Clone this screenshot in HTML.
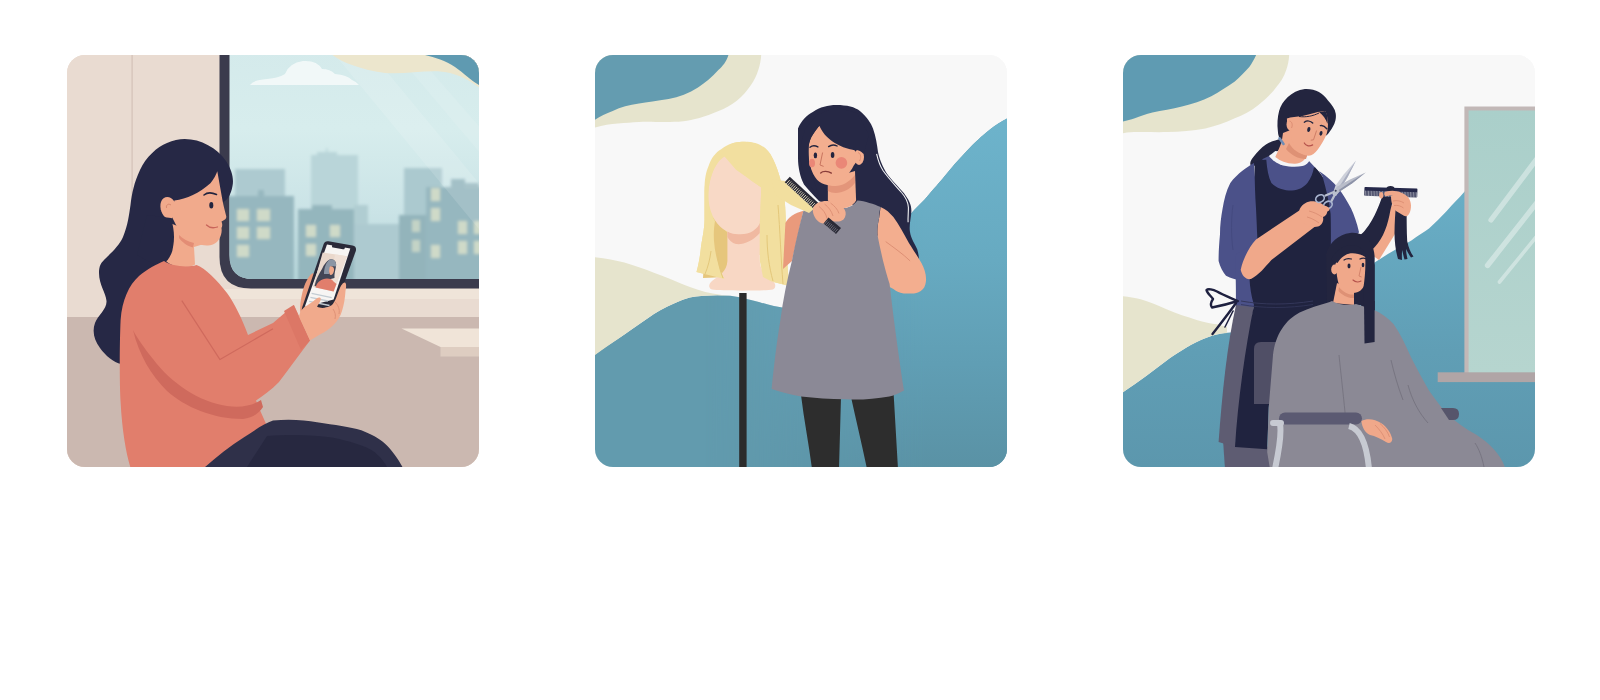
<!DOCTYPE html>
<html lang="en">
<head>
<meta charset="utf-8">
<title>Hair styling illustrations</title>
<style>
html,body{margin:0;padding:0;background:#fff;}
body{width:1600px;height:700px;position:relative;overflow:hidden;font-family:"Liberation Sans",sans-serif;}
.card{position:absolute;top:55px;width:412px;height:412px;border-radius:18px;overflow:hidden;}
.card svg{display:block;width:412px;height:412px;}
#c1{left:67px;background:#e9dbd1;}
#c2{left:595px;background:#f8f8f8;}
#c3{left:1123px;background:#f8f8f8;}
</style>
</head>
<body>
<div class="card" id="c1">
<svg viewBox="0 0 412 412">
<defs>
<linearGradient id="sky" x1="0" y1="0" x2="0" y2="1">
<stop offset="0" stop-color="#d4eaeb"/><stop offset=".35" stop-color="#d7eded"/><stop offset=".7" stop-color="#cae3e6"/><stop offset="1" stop-color="#b6d6da"/>
</linearGradient>
<filter id="blur1" x="-5%" y="-5%" width="110%" height="110%"><feGaussianBlur stdDeviation="1.5"/></filter>
<clipPath id="glass"><path d="M162.500 -10H430V224H186Q162.500 224 162.500 200Z"/></clipPath>
</defs>
<!-- CARD1-BG -->
<rect width="412" height="412" fill="#e9dbd1"/>
<rect y="262" width="412" height="150" fill="#cbb8b0"/>
<rect x="150" y="234" width="262" height="10" fill="#efe4d9"/>
<rect x="64.5" y="0" width="1.2" height="262" fill="#d3c2b8"/>
<!-- window -->
<path d="M152.500 -10H430V233.500H184Q152.500 233.500 152.500 202Z" fill="#3b3b4d"/>
<g clip-path="url(#glass)">
<rect x="160" y="-10" width="260" height="240" fill="url(#sky)"/>
<g filter="url(#blur1)">
<!-- far buildings -->
<rect x="244" y="100" width="47" height="130" fill="#b9d5d9"/>
<rect x="250" y="97" width="20" height="4" fill="#b9d5d9"/>
<rect x="259" y="93" width="1.5" height="6" fill="#b9d5d9"/>
<rect x="337" y="113" width="38" height="120" fill="#abc9cf"/>
<rect x="168" y="114" width="50" height="115" fill="#adcad0"/>
<rect x="287" y="150" width="14" height="80" fill="#b0cdd2"/>
<rect x="287" y="169" width="48" height="60" fill="#adcad0"/>
<!-- near buildings -->
<rect x="160" y="141" width="67" height="90" fill="#96b7bf"/>
<rect x="191" y="135" width="6" height="7" fill="#96b7bf"/>
<rect x="231" y="154" width="56" height="75" fill="#94b6bd"/>
<rect x="245" y="150" width="20" height="5" fill="#94b6bd"/>
<rect x="332" y="160" width="28" height="70" fill="#93b4bb"/>
<rect x="359" y="132" width="60" height="100" fill="#96b7bf"/>
<rect x="384" y="124" width="14" height="9" fill="#96b7bf"/>
<rect x="398" y="128" width="14" height="5" fill="#9cbcc3"/>
<!-- windows -->
<g fill="#cfdac8">
<rect x="170" y="154" width="12" height="12"/><rect x="190" y="154" width="13" height="12"/>
<rect x="170" y="172" width="12" height="12"/><rect x="190" y="172" width="13" height="12"/>
<rect x="170" y="190" width="12" height="12"/>
<rect x="239" y="170" width="10" height="12"/><rect x="263" y="170" width="10" height="12"/>
<rect x="239" y="189" width="10" height="12"/>
<rect x="364" y="133" width="9" height="13"/><rect x="364" y="153" width="9" height="13"/>
<rect x="364" y="190" width="9" height="13"/>
<rect x="391" y="166" width="9" height="13"/><rect x="407" y="166" width="9" height="13"/>
<rect x="391" y="186" width="9" height="13"/><rect x="407" y="186" width="9" height="13"/>
</g>
<g fill="#c3d3c6">
<rect x="345" y="165" width="8" height="12"/><rect x="345" y="185" width="8" height="12"/>

</g>
</g>
<!-- cloud -->
<path d="M183 30Q186 25 200 24Q212 23 218 19Q222 8 236 6Q250 5 255 14Q263 14 268 19Q280 20 285 25Q290 27 292 30Z" fill="#f4fafa" opacity=".9"/>
<!-- glare -->
<path d="M268 0H306L430 150V196Z" fill="#fff" opacity=".13"/>
<path d="M330 0H350L430 92V118Z" fill="#fff" opacity=".1"/>
<!-- top waves -->
<path d="M263 -2C272 6 290 14 318 18C340 20 365 13 383 18C398 22 406 28 414 34V-2Z" fill="#ece6cd"/>
<path d="M350 -2C362 1 376 4 388 12C398 19 404 26 414 31V-2Z" fill="#5f9ab1"/>
</g>
<path d="M334.5 273.5H414V292H373.5Z" fill="#f0e4d8"/>
<path d="M373.5 292H414V301.5H373.5Z" fill="#decdc1"/>
<!-- hair back -->
<path d="M117.7 84C134 84 150 93 159 106C165 115 167 124 165.5 131C164 140 160 145 156.5 147L140 178L120 195L112 212L70 240L54 309C47 308 38 300 33 293C27 285 25 276 28 268C31 260 40 254 39.5 246C39 238 32 230 32 218C32 211 34 208 37 205C44 198 52 191 56 182C61 170 62 160 63.5 150C65 138 67 128 73 115C79 102 90 92 100 88C106 85.5 112 84 117.700 84Z" fill="#262845"/>
<!-- neck -->
<path d="M103 168L99 206C106 213 120 214 128 209.500L127 192L140 188L128 178Z" fill="#f1aa8c"/>
<!-- face -->
<path d="M150.300 116.300L155.500 145.500C156.500 151 158 156 159.300 161.500C159.500 163.500 158 165 154.500 166.500C155.500 169 155.500 171 154.500 173C155 176 154.500 179 153 182.500C151 187 147 190 141 190.500C134 191 122 187 114 180L104 160L107.400 145.400C120 144 132 138.500 143.400 128.300C147 124 149 120 150.300 116.300Z" fill="#f1aa8c"/>
<!-- ear -->
<path d="M107 146C103 140 96 141 94 147C92 153 95 161 100 163.500C103 165 106 163 107 160Z" fill="#f1aa8c"/>
<path d="M104 150C101 148 99 150 99.500 153" fill="none" stroke="#d98a70" stroke-width="1"/>
<!-- hair lower behind ear over neck -->
<path d="M104 163C106 170 107 176 107 182C107 188 106 192 105.300 196C104 200 102 203 100.700 205L92 212L70 200L80 160Z" fill="#262845"/>
<path d="M112 180C116 184 121 186.500 127 188L126 192.500C120 191 115 187 112 183Z" fill="#e38d75"/>
<!-- eye brow mouth -->
<ellipse cx="144.300" cy="150.300" rx="2" ry="3.300" fill="#23253f"/>
<path d="M137 140C140 137.500 145 137.500 149.500 139.500" fill="none" stroke="#23253f" stroke-width="1.600" stroke-linecap="round"/>
<path d="M139.500 170C142 172.500 146 173.500 150.500 172" fill="none" stroke="#c9655a" stroke-width="1.300" stroke-linecap="round"/>
<!-- sweater body -->
<path d="M97 206C104 211 120 213 129.500 210C138 213 150 225 160 238C168 249 175 264 181 280L206 268L227 250L243 285.500C232 300 222 314 212 327C204 335 196 341 189 345.500L192 353L200 371L176 383L138 412H63.300C59 398 55 375 53.600 347C52.500 330 52.500 290 53.600 265C55 245 62 230 72 221C80 214 90 209 97 206Z" fill="#e17e6c"/>
<!-- under-arm shade -->
<path d="M66 275C72 300 84 320 100 336C118 352 146 364 176 364C186 363 192 358 196 352L194 345C186 350 176 353 160 351C132 347 104 328 86 304C78 294 70 283 66 275Z" fill="#cf6a5d"/>
<!-- crease -->
<path d="M114.800 245.700L153 304.600L206 273.700" fill="none" stroke="#cf6a5d" stroke-width="1.200" stroke-linejoin="round"/>
<!-- cuff -->
<path d="M226.600 250L243 285.500L234 295L217 256Z" fill="#dc7766"/>
<!-- pants -->
<path d="M138 412C150 402 163 391 176.600 382.600C188 375 198 368 206 365.500C222 364 238 365 250 367.300C268 370 283 372 294.300 375.200C304 379 312 383 317.800 388.500C325 395 331 404 335.500 412Z" fill="#2f3049"/>
<path d="M200 381C225 379 248 380 265 382.600C282 386 294 390 303 394.300C310 398 316 405 320 412H180Z" fill="#272840"/>
<!-- rear hand fingers (left of phone) -->
<path d="M246 218C241 221 237.500 229 235.500 237C233.500 245 232.500 252 233.500 259L244 256L252 226Z" fill="#e99a7c"/>
<!-- phone -->
<path d="M261.500 186.300L285.500 190.500Q290 191.500 288.800 196L270.500 246.500Q269 250.500 265 251.500L239.500 256.500Q233.500 257.500 235.300 252L256.500 189.500Q257.800 185.700 261.500 186.300Z" fill="#2a2a39"/>
<path d="M260 189.600L283.300 193.500L266.600 244.400L237.700 252Z" fill="#f7f5f3"/>
<path d="M265.300 189.200L278.200 191.400L277.600 193.400Q277.300 194.500 276 194.300L266 192.600Q264.800 192.300 265 191.200Z" fill="#2a2a39"/>
<path d="M255.700 197.400L280.100 201.200L266.600 236.600L246 232.100Z" fill="#ead8cc"/>
<path d="M268 199.300L280.100 201.200L266.600 236.600L262 235.600Z" fill="#f1e4da" opacity=".7"/>
<path d="M262.700 204.500C267 203.500 270 207 269 211.500C268.500 215 267 219 267.500 223L256 226C253 226 251 228 249.900 231.500L247.500 231C249 224 252 219 255 214C257 209.500 259.500 206 262.700 204.500Z" fill="#434656"/>
<path d="M262.700 204.500C266.500 203.500 270 207 269 211.500L264 211C262.500 213 262 216 262 219L257 219C257 213 259 207.500 262.700 204.500Z" fill="#8b95a4"/>
<path d="M263 211.500C265.500 210.800 267.500 212.500 267 215.500C266.600 218 265.500 220 263.500 220C262 219.500 261.500 214.500 263 211.500Z" fill="#f1aa8c"/>
<path d="M248.600 232.600C250 227 254.500 223.500 260 223.500C263 223.500 265.500 224.500 266.500 226.500L269.500 229L266.600 236.600Z" fill="#e17e6c"/>
<path d="M244.600 238.300L264.700 242.700M243.400 242.300L261 246M242.200 246.300L262.500 250.500" stroke="#c3ccd3" stroke-width="1.300" fill="none"/>
<!-- front hand -->
<path d="M232 262C233 256 236 252.500 240 250.500L246 246.500C249 243.500 252 241.500 253.500 243C254.500 244.500 252.500 248 250 251.500C254 254 260 253 265 250C268.500 246.500 270 240 272.500 234C274 230 276.500 227 278 227.500C279.500 228.500 279.300 232 278.500 236C278 243 277 250 275 256C272 266 264 274 252 280L243 285.500L226.600 250Z" fill="#f1aa8c"/>
<path d="M268 247C271 250 273 254 272 259M266 254C268 257 269 260 268 264" stroke="#dd8f74" stroke-width=".9" fill="none"/>
</svg>
</div>
<div class="card" id="c2">
<svg viewBox="0 0 412 412">
<defs>
<linearGradient id="teal2" x1="0" y1="0" x2="0" y2="412" gradientUnits="userSpaceOnUse">
<stop offset="0" stop-color="#6db3cb"/><stop offset=".16" stop-color="#6db3cb"/><stop offset=".5" stop-color="#67aac1"/><stop offset=".75" stop-color="#609eb4"/><stop offset="1" stop-color="#5a92a5"/>
</linearGradient>
<linearGradient id="t2m" x1="110" y1="0" x2="330" y2="0" gradientUnits="userSpaceOnUse"><stop offset="0" stop-color="#fff" stop-opacity="0"/><stop offset="1" stop-color="#fff" stop-opacity="1"/></linearGradient>
<mask id="m2" maskUnits="userSpaceOnUse" x="0" y="0" width="412" height="412"><rect width="412" height="412" fill="url(#t2m)"/></mask>
</defs>
<rect width="412" height="412" fill="#f8f8f8"/>
<!-- top-left waves -->
<path d="M-2 -2H166.300C166 8 163 20 156 30C148 42 137 51 123.600 56C110 62 98 65 88.300 66.200C70 68 55 66 44 67C30 68 15 68 -2 73Z" fill="#e6e4cd"/>
<path d="M-2 -2H134C132 6 128 11 123.600 14.700C117 22 110 28 103 32.400C94 38 84 42 73.600 44C62 46 52 47 44 48.600C34 50 26 52 17.700 56C10 59 4 62 -2 66Z" fill="#649cb0"/>
<!-- big teal -->
<defs><path id="bt2" d="M-2 301C10 292 20 286 29.400 279.600C40 272 50 265 58.900 259C68 253 77 249 85.300 245.700C94 242 102 241 108.900 240.700C118 240 127 240 135.400 240.700C146 242 156 245 164.800 247.200C174 250 182 252 190 253C215 258 250 262 275 240C295 220 302 185 310.500 165C316 158 323 151 329.600 144.500C337 136 342 130 347.300 124C356 113 364 104 370.800 97C380 87 388 80 394.300 75C402 69 408 65.500 414 62.500V414H-2Z" /></defs>
<use href="#bt2" fill="#629bae"/>
<use href="#bt2" fill="url(#teal2)" mask="url(#m2)"/>
<!-- bottom-left cream -->
<path d="M-2 202C10 203 20 205 29.400 207.500C40 211 50 214 58.900 217.800C70 222 80 226 88.300 229.500C98 233 108 237 117.700 238.400C124 239.500 130 240.300 135.400 240.700C127 240 118 240 108.900 240.700C102 241 94 242 85.300 245.700C77 249 68 253 58.900 259C50 265 40 272 29.400 279.600C20 286 10 293 -2 301.500Z" fill="#e6e4cd"/>
<!-- pole -->
<rect x="144.200" y="238" width="7.400" height="176" fill="#2b2b2b"/>
<!-- hair back -->
<path d="M147 86.800C160 86 172 90 178 104C184 116 188 132 189.800 147C191 160 191 176 191.300 190C192 204 193 218 194.200 231L176.600 226.600L170 200L118 200L129.500 224L101.500 217C104 208 105.500 198 106 191.300C108 180 109.500 172 109.500 164.800V135.400C109.500 124 111 117 113.300 111.800C116 103 121 97 126.500 94C133 89 140 87 147 86.800Z" fill="#f2df9f"/>
<path d="M115 160L133 178L133 222L108 223L110 195Z" fill="#e6c67c"/>
<!-- neck + base -->
<path d="M132.400 170H164.800V206C165 216 172 222 178 226C181 229 181 233 178 234.500C170 236 125 236 117 234.500C113 233 113.500 229 117 226C124 221 132 216 132.400 206Z" fill="#f8d7c4"/>
<path d="M132.400 176C140 182 156 180 164.800 168V178C158 186 148 190 141 189C137 188 134 185 132.400 182Z" fill="#f0b9a1"/>
<!-- face -->
<path d="M129.500 101.500C122 106 113.500 120 113.300 141C113.500 156 120 168 128 174C136 180 150 181 158 176C162 173 164.500 170 164.800 167.700L166.300 132.400L141 114.800Z" fill="#f8d9c6"/>
<!-- hair front -->
<path d="M129.500 101.500C134 100 138 105 141 111C148 120 158 127 166.300 132.400L165 168L164.800 206L168 222L176.600 226.600L194.200 231C193 218 192 204 191.300 190C191 176 191 160 189.800 147C188 132 184 116 178 104C172 92 160 86 147 86.800C140 87 134 89 129.500 94Z" fill="#f2df9f"/>
<path d="M109.500 135.400V164.800C109.500 172 108 180 106 191.300C105.500 198 104 208 101.500 217L129.500 224C124 214 120 200 119 186C118.500 178 119 172 120 166C115 158 113 150 113.300 141C113.500 130 116 118 122 108C116 114 110 124 109.500 135.400Z" fill="#f2df9f"/>
<path d="M116 196C115 204 113 212 110 219M123 198C123 208 125 216 128 223M172 180C172 196 174 212 178 226M183 150C185 175 186 205 188 229" stroke="#e3c77a" stroke-width="1" fill="none"/>
<!-- legs -->
<path d="M206 340L246 342L244 414H217C214 390 209 365 206 340Z" fill="#2d2d2d"/>
<path d="M256 342L298.700 340L303 414H272C267 390 261 365 256 342Z" fill="#2d2d2d"/>
<!-- hair back -->
<path d="M241.300 50C252 50 260 52 264.900 56C272 62 276 68 278 73.600C281 82 282 90 283 97C285 106 288 112 291.300 117.700C297 126 304 132 309 138.300C314 145 316.500 150 316.400 156C316 164 314 170 314.900 176.600C316 184 320 189 322.200 194.200C324 200 324.500 206 323.700 212L290 215L262 150L232 150L224 146C218 140 213 134 209 129.500C205 122 203 112 203 103V73.600C206 66 212 60 217.800 57C225 52 233 50 241.300 50Z" fill="#262845"/>
<!-- rear arm -->
<path d="M208.400 155.700C200 158 193 162 190.400 168L188 214L197 206Z" fill="#e99a7c"/>
<!-- right arm -->
<path d="M285.600 151.900C291 154 295 158 298.400 162.100C304 170 309 179 313.900 187.900C319 196 323 202 326.700 208.400C329 213 331 218 331.100 223.900C331 228 330 232 328 234.100C325 237 322 238.500 319 238.500H308.700C304 238 301 236 298.400 234.100C294 232 290 228 286 222C281 214 278 208 278.500 200C279 193 281 186 282.500 180.100C282 174 283 168 284.300 162.100Z" fill="#f3ae8f"/>
<path d="M290.700 186.600C298 192 308 199 315.100 205.900" stroke="#dd8f74" stroke-width="1" fill="none"/>
<!-- tunic -->
<path d="M208.400 155.700C218 152 228 150 236 148.500C244 156 256 154 262.400 145.400C270 146 279 149 285.600 151.900C284.500 156 284 159 284.300 162.100C283 168 282 174 282.500 180.100C284 188 286 197 288.100 205.900C290 213 292 221 294.600 229C297 250 302 290 309 335.500C303 339 298 341 294.300 341.400C280 344 265 345 250 344.300C235 344 220 343 206 341.400C196 340 186 337 176.600 334C179 310 182 285 185.400 264.900C188 245 192 225 196.900 205.900C200 190 204 172 208.400 155.700Z" fill="#8b8996"/>
<!-- neck -->
<path d="M232.900 124L260 116L261.100 145.400C256 154 244 156 236 148.500L232.900 145.400Z" fill="#f3ae8f"/>
<path d="M232.900 128.700C240 134 252 130 259.900 120V128C252 138 240 140 232.900 136Z" fill="#e3957a"/>
<!-- face -->
<path d="M224.300 70.700C221 75 218 79 216.400 82.100C214.500 86 213.800 89 213.600 92.100C213.300 98 213.500 103 214.300 107.900C215.500 113 217.500 118 220 122.100C222.500 126 226 128.500 229.300 129.300C232 130.300 235 130.800 237.900 130.700C243 129.500 248 125.500 252.100 120.700C255 117 257 114 258.600 110.700L264 103L259.300 95L245 84L232 72Z" fill="#f3ae8f"/>
<!-- ear -->
<ellipse cx="264" cy="102.100" rx="5" ry="7.800" fill="#f3ae8f"/>
<path d="M263 97.500C266 98.500 266.500 103 264.500 106" stroke="#dd8f74" stroke-width=".9" fill="none"/>
<!-- hair front -->
<path d="M224.300 70.700C226.500 75 229 79 232.100 82.100C235 85 238.500 87.500 242.100 89.300C246 91.500 250.500 93.300 255 94.300C257 94.800 258.500 95 259.300 95C263 94.500 266 96 268.500 99L274 80L262 58L241 52L222 60L210 74L204 96L207 112L212 127L221 138.500L225 146.500C223.500 140 222 135 220.700 131C219 126 217 120 215.800 114C214.500 110 214 106 213.800 103C213.400 99 213.400 95 213.600 92.100C214 88.500 215 85 216.400 82.100C218.500 78 221 74.500 224.300 70.700Z" fill="#262845"/>
<path d="M227.800 73.600C231 79 236 84.500 240.700 86.400C245 89.500 250 91.500 253.600 92.100" stroke="#262845" stroke-width=".8" fill="none"/>
<!-- strand highlight -->
<path d="M281.600 98.900C283 105 285 111 288 115.500C294 124 301 131 306.500 137.500C311 142.500 313 147 313.400 152.500C313.500 157 312.800 162 313.100 167.300" stroke="#f3f4f6" stroke-width="1.100" fill="none"/>
<!-- features -->
<ellipse cx="220.400" cy="100.400" rx="1.700" ry="2.900" fill="#23253f"/>
<ellipse cx="237.600" cy="100" rx="1.800" ry="2.900" fill="#23253f"/>
<path d="M215 92.300C217 90.600 220 90.400 222.900 91.900M233.600 91.600C236 89.800 239.500 89.600 242.100 91" stroke="#23253f" stroke-width="1.400" fill="none" stroke-linecap="round"/>
<ellipse cx="217" cy="108" rx="3" ry="4.300" fill="#ea8777"/>
<circle cx="246.400" cy="107.900" r="5.800" fill="#ea8777"/>
<path d="M227.600 97.500L225 110L228.600 111.400" stroke="#c9755f" stroke-width="1" fill="none"/>
<path d="M225.700 118C227.500 116 233 115.800 236.400 118.100" stroke="#8a3d3a" stroke-width="1.300" fill="none" stroke-linecap="round"/>
<!-- comb -->
<path d="M176 124L190 126L221 152L214 158L196 150L180 140Z" fill="#f2df9f"/>
<path d="M194.8 121.7L224.5 148.9L219.4 154.5L189.7 127.3Z" fill="#2a2a36"/>
<path d="M194.7 125.1L191.2 129.0M196.1 126.5L192.6 130.3M197.6 127.8L194.1 131.7M199.1 129.2L195.6 133.0M200.6 130.5L197.1 134.4M202.1 131.9L198.5 135.7M203.5 133.2L200.0 137.1M205.0 134.6L201.5 138.4M206.5 135.9L203.0 139.8M208.0 137.3L204.5 141.1M209.4 138.6L205.9 142.5M210.9 140.0L207.4 143.8M212.4 141.3L208.9 145.2M213.9 142.7L210.4 146.5M215.3 144.0L211.8 147.9M216.8 145.4L213.3 149.2M218.3 146.7L214.8 150.6M219.8 148.1L216.3 151.9M221.2 149.4L217.7 153.3" stroke="#e6e0c4" stroke-width=".9" fill="none"/>
<!-- hand -->
<path d="M218.500 152C221 147.500 227 145.500 233 146C240 147 246.500 150 249.600 154.400C251.500 157.500 251 161.500 248.500 164.500C245 167 241 167 237 166C233.500 169 228 169.500 224 167C219.500 163.500 216.500 157 218.500 152Z" fill="#f3ae8f"/>
<path d="M224 151.500C228 154.500 231 158.500 232 163.500M229.500 149C233.500 152 236.500 156 238 161M235.500 148C239.500 151 242.500 154 244 158.500" stroke="#dd8f74" stroke-width=".9" fill="none"/>
<path d="M233.5 162.4L246.0 172.9L241.0 178.9L228.5 168.4Z" fill="#2a2a36"/>
<path d="M232.5 165.5L229.4 169.2M234.0 166.7L230.8 170.4M235.4 167.9L232.3 171.7M236.9 169.1L233.7 172.9M238.3 170.3L235.2 174.1M239.8 171.6L236.6 175.3M241.2 172.8L238.1 176.5M242.7 174.0L239.5 177.8" stroke="#80808c" stroke-width=".7" fill="none"/>
<!-- CARD2-END -->
</svg>
</div>
<div class="card" id="c3">
<svg viewBox="0 0 412 412">
<defs>
<linearGradient id="teal3" x1="0" y1="0" x2="0" y2="412" gradientUnits="userSpaceOnUse">
<stop offset="0" stop-color="#6db3cb"/><stop offset=".33" stop-color="#69aec6"/><stop offset=".72" stop-color="#609eb5"/><stop offset="1" stop-color="#5c97ad"/>
</linearGradient>
<linearGradient id="mirror" x1="0" y1="0" x2="0" y2="1">
<stop offset="0" stop-color="#aacfca"/><stop offset="1" stop-color="#b6d5cf"/>
</linearGradient>
</defs>
<rect width="412" height="412" fill="#f8f8f8"/>
<!-- top-left waves -->
<path d="M-2 -2H166.300C166 5 165 10 163.300 14.700C161 22 157 28 153 32.400C148 39 142 45 135.400 50C128 56 120 60 111.800 63.300C102 68 92 71 82.400 73.600C70 76 57 77 44.100 77.100C34 77.300 24 77 14.700 77.100C9 77.200 4 77.500 -2 78.500Z" fill="#e6e4cd"/>
<path d="M-2 -2H134C132 3 129 8 126.500 11.800C122 17 117 22 111.800 26.500C104 32 96 37 88.300 41.200C79 46 69 49 58.900 51.500C49 54 39 55.500 29.400 57.400C23 59 17 61 11.800 63.300C7 65 3 66 -2 67Z" fill="#5f9bb2"/>
<!-- teal big -->
<path d="M-2 338.500C6 333 15 327 23.500 320.800C31 315 39 309 47 303C54 298 61 294 67.700 290C75 286 82 283 88.300 281C93 279.500 97 278.500 101.500 278C140 276 190 262 230 232C238 224 244 214 250 208.500C255 205.500 260 202 264.900 199C273 194 281 189.500 288.400 185.400C295 181 301 177 306 173.600C312 168 318 162 323.700 156C330 149 336 143 341.400 136.800L414 60V414H-2Z" fill="url(#teal3)"/>
<!-- bottom-left cream -->
<path d="M-2 241C5 241.500 11 242.500 17.700 244.300C27 247 36 251 44.100 254.600C54 259 64 262 73.600 264.900C81 267 88 268.500 94.200 269.300L104 272V278C97 278.500 93 279.500 88.300 281C82 283 75 286 67.700 290C61 294 54 298 47 303C39 309 31 315 23.500 320.800C15 327 6 333 -2 338.500Z" fill="#e6e4cd"/>
<!-- mirror -->
<rect x="341.400" y="51.500" width="80" height="270" fill="#c2b8b7"/>
<rect x="345.600" y="55.500" width="80" height="263" fill="url(#mirror)"/>
<g stroke="#fff" stroke-linecap="round" opacity=".38" fill="none">
<path d="M368 165L416 101" stroke-width="5.300"/>
<path d="M364.500 210.500L416 145" stroke-width="5.300"/>
<path d="M376.500 227L416 178.500" stroke-width="3.600"/>
</g>
<rect x="314.700" y="317.300" width="100" height="9.800" fill="#b0a5a6"/>
<!-- hairdresser pants -->
<path d="M100 385L147 392V414H102Z" fill="#5e5c72"/>
<!-- pants/skirt side strip -->
<path d="M113 250L131 250L112 392L95.600 387C99 340 104 290 113 250Z" fill="#5e5c72"/>
<!-- ponytail -->
<path d="M158.500 84C152 85 147 87 143.300 89.300C138 93 134 97 130.400 102.100C128 105 127 107 127.300 109.500C129 111.500 132 111 135.600 109.900C141 107 146 103.500 151 99.600C154 97 157 94 159.500 91Z" fill="#23253f"/>
<!-- left sleeve -->
<path d="M131 108C124 112 115 118 107.300 127.900C103 136 101 145 99.600 153.600C98 162 97 171 97 179.300C96 190 95.500 200 95.600 206C97 212 100 217 103 220.700C108 223 113 225 117.700 225L128 214L135 186L134 150Z" fill="#4b5189"/>
<path d="M110 150C108 165 108 180 110 195" stroke="#444a80" stroke-width="1" fill="none"/>
<!-- right sleeve -->
<path d="M196 116C204 121 210 127 215.300 133C220 139 224 146 228.100 153.600C231 160 234 168 235.900 176.700C236 178 235 179 233.300 179.300L234 181L208 206H200V122Z" fill="#4b5189"/>
<!-- shirt yoke -->
<path d="M140.700 103.400L145.900 101L186 106L192.100 112.400L200 122V140H135V108Z" fill="#4b5189"/>
<!-- shirt torso -->
<path d="M112 200L135 186L131 252L113 250C113 238 113 226 112 200Z" fill="#4b5189"/>
<!-- apron bib + skirt -->
<path d="M131.700 107.300C134 106 138 104.500 143.300 104.700C144 114 145.500 122 148.400 127.900C153 133 161 135.600 169 135.600C176 135 181 132 184.400 127.900C188 123 190 118 190.900 112.400L192.100 112.400C195 115 198 119 199.900 122.700C203 134 206 146 207.600 158.700C208 170 208 190 207.600 205L206 250L150 300L145.700 353L144.200 394.300L112 392C115 345 122 295 131 250C128 240 127 232 126.500 223.700C128 212 131 198 134.300 184.400C134 174 133.500 164 133 153.600C132 138 131.500 122 131.700 107.300Z" fill="#20233f"/>
<path d="M118 246C140 250 165 250 190 246" stroke="#34375a" stroke-width="1" fill="none"/>
<path d="M118 249.500C140 253.500 165 253.500 190 249.500" stroke="#34375a" stroke-width=".8" fill="none"/>
<!-- bow -->
<path d="M114.800 246C108 243 100 240 94 236.500C90 234.500 85 233.500 83.500 235C84 238 88 241 90 244C88 247 87 250 89 252.500C97 251 107 248.500 114.800 246Z" fill="none" stroke="#1f2140" stroke-width="2.400" stroke-linejoin="round"/>
<path d="M113 248C106 258 98 268 89.500 279" stroke="#1f2140" stroke-width="2.400" fill="none" stroke-linecap="round"/>
<path d="M110 256C107 262 104 268 102 272" stroke="#1f2140" stroke-width="1.600" fill="none" stroke-linecap="round"/>
<!-- white collar -->
<path d="M145.900 101C150 106 155 109 160 110.500C167 112 174 112 179.300 111.100C182 110.500 184 109 186 106.500L184.400 99.600L152.300 96Z" fill="#f4f4f6"/>
<!-- head hair back -->
<path d="M181.900 34C192 33.500 200 38 205 45.600C209 50 212 54 212.700 58.400C213.500 63 212 68 210.100 71.300C208 75 206 78 203.700 80.300L190 85L165 90L158.700 86.700C156 83 155 80 154.900 76.400C154 69 154.500 62 156.100 55.900C159 46 168 36 181.900 34Z" fill="#23253f"/>
<!-- neck -->
<path d="M160 78L170 74L184.400 96V100C182 105 178 108.500 172 108.800C164 109 157 106 152.300 102.100C155 96 157.500 90 158.700 86.700Z" fill="#f0a88a"/>
<path d="M166 88C170 95 177 100 184.400 99.600L183 104C175 104 168 100 163 94Z" fill="#de9175"/>
<!-- face -->
<path d="M163.900 63.600C168 62 174 61.500 179.300 61C185 60 190 58.500 194.700 57.100C198 56.300 200.500 56 202.400 55.900C204 60 205 64 205 68.700C205 73 204.300 78 202.600 81.600C200.500 86 198 90.500 194.800 94.400C192 98 189 100.500 185.800 100.800C181 100.500 177 98.500 173 94C170 89 168 82 167.200 76.400C165 74 164 68 163.900 63.600Z" fill="#f0a88a"/>
<ellipse cx="168" cy="69.500" rx="4.500" ry="6.200" fill="#f0a88a"/>
<path d="M166.500 66C169 66.500 170 70 168.500 73" stroke="#d98a70" stroke-width=".9" fill="none"/>
<!-- fringe strands -->
<path d="M196 57C200 60 203 64 204.500 69C205 64 204.500 59 202.400 55.900Z" fill="#23253f"/>
<path d="M176 61.500C183 62.500 190 61 196 58" stroke="#23253f" stroke-width="1" fill="none"/>
<!-- hair tie -->
<path d="M156.500 83.300L160.500 89" stroke="#6f8db5" stroke-width="2.600" stroke-linecap="round"/>
<!-- features -->
<ellipse cx="185.800" cy="74.500" rx="1.600" ry="2.500" fill="#23253f" transform="rotate(12 185.800 74.500)"/>
<ellipse cx="198" cy="78.300" rx="1.500" ry="2.400" fill="#23253f" transform="rotate(12 198 78.300)"/>
<path d="M181.300 67.200C184 65.300 187.500 65.800 189.700 68.100M197.400 70.600C199.500 70 202 71.500 203.800 73.800" stroke="#23253f" stroke-width="1.400" fill="none" stroke-linecap="round"/>
<path d="M193.600 75.500L190.500 84.800L187.800 85.200" stroke="#cf7e66" stroke-width="1" fill="none" stroke-linejoin="round"/>
<path d="M181.300 88C182.500 90.500 186 91.800 189.700 89.900" stroke="#b5524b" stroke-width="1.200" fill="none" stroke-linecap="round"/>
<!-- right forearm (raised) -->
<path d="M267 150L285 152L280 166L256 205L246 198Z" fill="#f0a88a"/>
<!-- client raised lock left -->
<path d="M261 136C259 142 257 148 254 155C251 162 247 169 243 174C241 177 239 179 236 180.500L244 200L249 195C253 191 257 186 260 180C263 174 265 167 266.500 160C267.500 154 269 148 271 143L268 136Z" fill="#23253f"/>
<!-- hanging lock right -->
<path d="M273 150L283.500 152C283.800 165 283.600 176 284.200 186C285.500 193 288 198 290.500 201.500L288 202.500C286 200 284.500 197 283 194C283.200 198 283.800 201 284.500 204L281.500 204.500C280.500 201 279.800 198 279.200 195C278.800 198 278.800 202 279 205L275 204C273 197 271.500 188 271.500 178C271.600 168 272.200 158 273 150Z" fill="#23253f"/>
<!-- comb 3 -->
<g transform="rotate(1.800 242 132)">
<rect x="241.500" y="132" width="53" height="8.800" rx=".8" fill="#25284a"/>
<path d="M242.6 135.6V141.2M244.2 135.6V141.2M245.7 135.6V141.2M247.2 135.6V141.2M248.8 135.6V141.2M250.3 135.6V141.2M251.9 135.6V141.2M253.4 135.6V141.2M255.0 135.6V141.2M256.6 135.6V141.2M258.1 135.6V141.2M259.6 135.6V141.2M261.2 135.6V141.2M262.8 135.6V141.2M264.3 135.6V141.2M265.9 135.6V141.2M267.4 135.6V141.2M268.9 135.6V141.2M270.5 135.6V141.2M272.1 135.6V141.2M273.6 135.6V141.2M275.1 135.6V141.2M276.7 135.6V141.2M278.2 135.6V141.2M279.8 135.6V141.2M281.4 135.6V141.2M282.9 135.6V141.2M284.4 135.6V141.2M286.0 135.6V141.2M287.6 135.6V141.2M289.1 135.6V141.2M290.6 135.6V141.2M292.2 135.6V141.2M293.8 135.6V141.2" stroke="#dfe0e6" stroke-width=".55" fill="none"/>
</g>
<!-- right hand -->
<ellipse cx="267.500" cy="133.600" rx="4" ry="2.600" fill="#23253f"/>
<path d="M268 141C272 138 280 138 284 141C288 145 289 151 287 157C286 160 283.500 162.500 280.500 160.500L273 156C270 153 268 148 268 141Z" fill="#f0a88a"/>
<path d="M263.500 138.800C268 137.600 275 138 280 141" stroke="#f0a88a" stroke-width="4.600" stroke-linecap="round" fill="none"/>
<ellipse cx="258.200" cy="140.200" rx="2" ry="3.200" fill="#f0a88a"/>
<path d="M270 146C274 145 278 146 281 148M271 150.500C275 150 278 151 280.500 153" stroke="#d98a70" stroke-width=".8" fill="none"/>
<!-- client hair back -->
<path d="M227 178C236 177 244 181 248 188C251 194 252 200 251.600 206V287L241 288.500L238 250L204 250L203 199C206 188 216 179 227 178Z" fill="#23253f"/>
<!-- client neck -->
<path d="M214 228L231 236V250L210 248Z" fill="#f0a88a"/>
<path d="M216 232C221 238 226 240 231 239.500V243C225 243.500 219 240 215.500 236Z" fill="#de9175"/>
<!-- client face -->
<path d="M215 205C218 201 222 199 226 198.500C232 197.500 238 199 244 203C244.500 210 244 218 242 229C240 234 236 238 230 238C225 237.500 220 235 217 233C215 228 214 222 213.500 217C211 215 211 209 215 205Z" fill="#f0a88a"/>
<ellipse cx="211.500" cy="214.500" rx="3.300" ry="5" fill="#f0a88a"/>
<!-- client fringe -->
<path d="M208 205C212 196 220 190 229 190C236 190 242 195 244.500 203.500C241 200 237 197.500 233 197C228 197 224 199 221 201C218 203 216 205.500 214.500 208Z" fill="#23253f"/>
<!-- client long lock right -->
<path d="M242 198C246 200 250 204 251.600 210V287L241 288.500C241.500 268 241 248 240.500 232C242 222 243 210 242 198Z" fill="#23253f"/>
<!-- client features -->
<ellipse cx="226" cy="211" rx="1.500" ry="2.400" fill="#23253f"/>
<ellipse cx="240" cy="210" rx="1.300" ry="2.300" fill="#23253f"/>
<path d="M221 205C223 203.500 226 203.300 228.500 204M237 204C239 203 241.500 203 243.500 204" stroke="#23253f" stroke-width="1.200" fill="none" stroke-linecap="round"/>
<path d="M238 212L236 221L238.600 222" stroke="#cf7e66" stroke-width=".9" fill="none"/>
<path d="M230 225C232 227 235 227.500 238 226" stroke="#b5524b" stroke-width="1.100" fill="none" stroke-linecap="round"/>
<!-- chair back -->
<path d="M138 287H160V349H131V294Q131 287 138 287Z" fill="#504f66"/>
<!-- cape -->
<path d="M209 246C216 250 226 251 233 249L250 254.600C258 258 265 263 270.700 269.300C278 280 283 291 288.400 303C294 314 300 325 306 335.500C312 344 318 352 323.700 359C333 367 343 374 353 379.600C360 384 366 389 370.800 394.300C376 400 380 406 382.600 414H147L144.200 397.300L145.700 353L150 300C151 290 154 281 159 273.700C164 266 170 261 176.600 257.500C186 253 196 250 206 247.200Z" fill="#8b8995"/>
<path d="M268 305C271 318 275 332 280 345M285 330C289 345 296 358 305 368M216 300C218 320 221 345 223 368M352 388C356 394 359 402 361 412" stroke="#75737f" stroke-width=".9" fill="none"/>
<!-- client long lock over cape -->
<path d="M241 246H251.600V287L241.500 288.500Z" fill="#23253f"/>
<!-- right armrest -->
<path d="M318 353H330Q336 353 336 359Q336 365 330 365H326Z" fill="#56556b"/>
<!-- armrest -->
<rect x="156" y="357.500" width="83" height="12" rx="6" fill="#5b5a72"/>
<!-- chair tubes -->
<path d="M150 368H158" stroke="#c7cad2" stroke-width="6" stroke-linecap="round"/>
<path d="M157 369C159 380 155 400 152 414" stroke="#c7cad2" stroke-width="6" fill="none"/>
<path d="M226 371C238 374 244 392 246 414" stroke="#c7cad2" stroke-width="6" fill="none"/>
<!-- client hand -->
<path d="M238.400 366C244 363 252 364 258 368C264 372 268 378 269.300 384C269 388 266 389 263 387C258 384 252 381 247 380C242 378 239 372 238.400 366Z" fill="#f0a88a"/>
<path d="M252 370C256 374 260 379 262 384M257 368.500C261 372 265 377 266.500 382" stroke="#d98a70" stroke-width=".8" fill="none"/>
<!-- left forearm -->
<path d="M117.700 214.800C120 204 126 192 133 184.400L179.300 153.600L192.100 171.600L148.400 205C142 212 136 220 128 224C123 225 119 221 117.700 214.800Z" fill="#f0a88a"/>
<!-- left hand -->
<path d="M176.700 154C180 148 186 145.500 192 146.500C197 147 202 150 204 154C205 158 203 161 200 162C201 166 199 170 195 171.600C190 173 184 171 180 168C177 164 175.500 159 176.700 154Z" fill="#f0a88a"/>
<path d="M186 156C190 157 195 159 199 162M184 162C188 163 192 165 196 168" stroke="#d98a70" stroke-width=".8" fill="none"/>
<!-- scissors -->
<path d="M209.500 139.500L212.400 130.700L220.700 119.500L233 105.400L224.700 122.100L217.400 134.100L213 141Z" fill="#cdd0da"/>
<path d="M233 105.400L224.700 122.100L217.400 134.100L215.500 133L223 121Z" fill="#a9aec0"/>
<path d="M210 138L213.800 131.700L227 124.500L242.700 117.600L229.300 128.300L216.700 136.500L212.500 141Z" fill="#b9bdca"/>
<path d="M242.700 117.600L229.300 128.300L216.700 136.500L215.800 135L228 126.800Z" fill="#8d93a8"/>
<path d="M212 136.500L202.500 140.500M213 137.500L208.500 146" stroke="#b9bfce" stroke-width="2.300" stroke-linecap="round" fill="none"/>
<ellipse cx="197" cy="143.600" rx="4.500" ry="3.500" fill="none" stroke="#a9b4cf" stroke-width="1.700" transform="rotate(-30 197 143.600)"/>
<ellipse cx="204.900" cy="150" rx="4.500" ry="3.500" fill="none" stroke="#a9b4cf" stroke-width="1.700" transform="rotate(-30 204.900 150)"/>
<circle cx="212.700" cy="135.700" r="1" fill="#3a3f55"/>
<path d="M186 150.500C190 148.500 196 149 201 150.500C205 151.500 207 153 206.500 155C205.500 157 201 157 196 156.500C192 156 188 155 186 153.500Z" fill="#f0a88a"/>
</svg>
</div>
</body>
</html>
